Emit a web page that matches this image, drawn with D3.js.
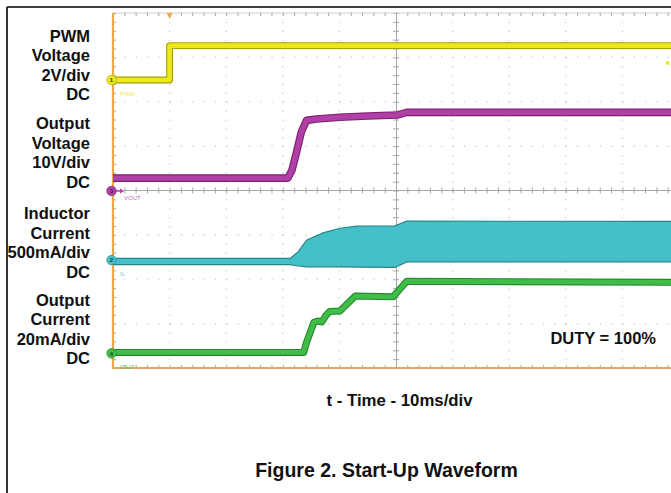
<!DOCTYPE html>
<html><head><meta charset="utf-8">
<script src="https://cdn.jsdelivr.net/npm/d3@7"></script>
<style>
body{margin:0;background:#fff}
svg{display:block}
text{font-family:"Liberation Sans",Arial,Helvetica,sans-serif}
</style>
</head><body>
<svg id="c" width="671" height="493"></svg>
<script>
// ---- data (time in ms, 10 ms/div) ----
const pwmTime  = [0, 10, 10, 100];
const pwmVolts = [0, 0, 1.55, 1.55];

const voutTime  = [0, 30.9, 31.6, 32.4, 33.3, 34.2, 36, 40.1, 45, 50.2, 51.9, 100];
const voutVolts = [2.9, 2.9, 4.6, 8.6, 13.4, 15.9, 16.2, 16.6, 16.9, 17.1, 17.7, 17.7];

const ilTime  = [0, 31.3, 32.7, 34.2, 37.1, 40.1, 43.1, 49.8, 51.9, 100];
const ilUpper = [20, 20, 93, 225, 307, 360, 383, 386, 440, 436];
const ilLower = [-50, -50, -66, -75, -75, -75, -78, -82, -19, -19];

const ioutTime = [0, 33.7, 34.2, 35.5, 36.2, 36.9, 37.6, 38.3, 40.1, 42.8, 49.5, 51.9, 100];
const ioutMa   = [0.4, 0.4, 5, 14, 14.6, 14.2, 17, 18.9, 19.1, 25.8, 25.5, 32.5, 32];

const channelLabels = [
  ["PWM", "Voltage", "2V/div", "DC"],
  ["Output", "Voltage", "10V/div", "DC"],
  ["Inductor", "Current", "500mA/div", "DC"],
  ["Output", "Current", "20mA/div", "DC"]
];
const xLabel = "t - Time - 10ms/div";
const title = "Figure 2. Start-Up Waveform";
const note = "DUTY = 100%";

// ---- layout ----
const svg = d3.select("#c");
const X0 = 113, X1 = 679, Y0 = 13, Y1 = 368;
const x = d3.scaleLinear().domain([0, 100]).range([X0, X1]);
const yDiv = d3.scaleLinear().domain([-4, 4]).range([Y1, Y0]);

const channels = [
  {id:"1", tag:"PWM",  perDiv:2,   offset:2.49,  color:"#ece81c", edge:"#a6a200", labelY:41.7},
  {id:"3", tag:"VOUT", perDiv:10,  offset:-0.01, color:"#b03fa6", edge:"#7a2270", labelY:129.3},
  {id:"2", tag:"IL",   perDiv:500, offset:-1.57, color:"#45c0c9", edge:"#23858c", labelY:219.3},
  {id:"4", tag:"IOUT", perDiv:20,  offset:-3.67, color:"#40bd47", edge:"#1f8a2a", labelY:305.7}
];
const yCh = (ch, v) => yDiv(ch.offset + v / ch.perDiv);

// page frame
svg.append("line").attr("x1",7).attr("x2",671).attr("y1",7).attr("y2",7).attr("stroke","#000").attr("stroke-width",1.6);
svg.append("line").attr("x1",7).attr("x2",7).attr("y1",7).attr("y2",493).attr("stroke","#000").attr("stroke-width",1.6);

// graticule clip
svg.append("clipPath").attr("id","clip").append("rect").attr("x",X0).attr("y",Y0).attr("width",671-X0).attr("height",Y1-Y0);
const g = svg.append("g");

// dotted grid
const xMajor = d3.range(0, 101, 10);
const yMajor = d3.range(-4, 5, 1);
g.selectAll(".vg").data(xMajor.filter(d => d !== 0 && d !== 50)).join("line")
  .attr("x1", d => x(d)).attr("x2", d => x(d)).attr("y1", Y0).attr("y2", Y1)
  .attr("stroke", "#c4c4c4").attr("stroke-width", 1.2).attr("stroke-dasharray", "1.2,7.675");
g.selectAll(".hg").data(yMajor.filter(d => d !== 0 && d !== -4)).join("line")
  .attr("x1", X0).attr("x2", 671).attr("y1", d => yDiv(d)).attr("y2", d => yDiv(d))
  .attr("stroke", "#c4c4c4").attr("stroke-width", 1.2).attr("stroke-dasharray", "1.2,10.12");

// center axes with minor ticks (d3 axes)
const xMinor = d3.range(0, 100.01, 2);
const yMinor = d3.range(-4, 4.001, 0.2);
const tickCol = "#a8a8a8";
function styleAxis(sel){
  sel.select(".domain").attr("stroke", tickCol);
  sel.selectAll(".tick line").attr("stroke", tickCol);
  sel.selectAll(".tick text").remove();
}
g.append("g").attr("transform", `translate(0,${yDiv(0)})`)
  .call(d3.axisBottom(x).tickValues(xMinor).tickSizeInner(3).tickSizeOuter(0).tickFormat(""))
  .call(styleAxis).select(".domain").attr("d", `M${X0},0H671`);
g.append("g").attr("transform", `translate(0,${yDiv(0)})`)
  .call(d3.axisTop(x).tickValues(xMinor).tickSizeInner(3).tickSizeOuter(0).tickFormat(""))
  .call(styleAxis).select(".domain").remove();
g.append("g").attr("transform", `translate(${x(50)},0)`)
  .call(d3.axisLeft(yDiv).tickValues(yMinor).tickSizeInner(3).tickSizeOuter(0).tickFormat(""))
  .call(styleAxis);
g.append("g").attr("transform", `translate(${x(50)},0)`)
  .call(d3.axisRight(yDiv).tickValues(yMinor).tickSizeInner(3).tickSizeOuter(0).tickFormat(""))
  .call(styleAxis).select(".domain").remove();
g.append("g").attr("transform", `translate(0,${Y0})`)
  .call(d3.axisBottom(x).tickValues(xMinor).tickSizeInner(3).tickSizeOuter(0).tickFormat(""))
  .call(styleAxis).select(".domain").attr("d", `M${X0},0H671`).attr("stroke","#d0d0d0");
g.append("g").attr("transform", `translate(0,${Y1})`)
  .call(d3.axisTop(x).tickValues(xMinor).tickSizeInner(3).tickSizeOuter(0).tickFormat(""))
  .call(styleAxis).select(".domain").remove();
g.append("g").attr("transform", `translate(${X0},0)`)
  .call(d3.axisRight(yDiv).tickValues(yMinor).tickSizeInner(3).tickSizeOuter(0).tickFormat(""))
  .call(styleAxis).select(".domain").remove();

// orange left & bottom border
g.append("line").attr("x1", X0).attr("x2", X0).attr("y1", Y0).attr("y2", Y1+1).attr("stroke", "#eca84a").attr("stroke-width", 2.2);
g.append("line").attr("x1", X0).attr("x2", 671).attr("y1", Y1).attr("y2", Y1).attr("stroke", "#e4aa60").attr("stroke-width", 2.2);

// traces
const tr = svg.append("g").attr("clip-path", "url(#clip)");
function trace(ch, ts, vs, w){
  const pts = ts.map((t,i) => [x(t), yCh(ch, vs[i])]);
  const line = d3.line();
  tr.append("path").attr("d", line(pts)).attr("fill","none").attr("stroke", ch.edge).attr("stroke-width", w+1.6).attr("stroke-linejoin","round");
  tr.append("path").attr("d", line(pts)).attr("fill","none").attr("stroke", ch.color).attr("stroke-width", w-0.6).attr("stroke-linejoin","round");
}
trace(channels[0], pwmTime, pwmVolts, 5.2);
trace(channels[1], voutTime, voutVolts, 6);
const ch2 = channels[2];
const area = d3.area().x(d => x(d.t)).y0(d => yCh(ch2, d.lo)).y1(d => yCh(ch2, d.hi));
const ilData = ilTime.map((t,i) => ({t, hi: ilUpper[i], lo: ilLower[i]}));
tr.append("path").attr("d", area(ilData)).attr("fill", ch2.color).attr("stroke", ch2.edge).attr("stroke-width", 1.2);
trace(channels[3], ioutTime, ioutMa, 5.4);

// channel ground markers
channels.forEach(ch => {
  const cy = yCh(ch, 0);
  const mg = svg.append("g");
  if (ch.tag === "VOUT") {
    mg.append("path").attr("d", `M${X0},${cy}H${X0+8}`).attr("stroke", ch.color).attr("stroke-width", 1.5);
    mg.append("path").attr("d", `M${X0+7},${cy-2.5}L${X0+11},${cy}L${X0+7},${cy+2.5}Z`).attr("fill", ch.color);
  }
  mg.append("circle").attr("cx", X0-1.5).attr("cy", cy).attr("r", 4.8).attr("fill", ch.color).attr("stroke", ch.edge).attr("stroke-width", 0.6);
  mg.append("text").attr("x", X0-1.5).attr("y", cy+2.2).attr("text-anchor","middle").attr("font-size", 6).attr("font-weight","bold").attr("fill","#333").text(ch.id);
  mg.append("text").attr("x", X0 + (ch.tag === "VOUT" ? 11 : 7)).attr("y", cy + (ch.tag === "VOUT" ? 9 : 16))
    .attr("font-size", 6).attr("fill", ch.color).attr("opacity", 0.8).text(ch.tag);
});
svg.append("path").attr("d", `M${x(10)-3},${Y0}L${x(10)+3},${Y0}L${x(10)},${Y0+6}Z`).attr("fill", "#eca84a");
svg.append("circle").attr("cx", 667.5).attr("cy", 63).attr("r", 2).attr("fill", "#ece81c");

// channel labels
channels.forEach((ch, i) => {
  svg.append("text").attr("text-anchor","end").attr("font-size", 16.5).attr("font-weight","bold").attr("fill","#111")
    .selectAll("tspan").data(channelLabels[i]).join("tspan")
    .attr("x", 90).attr("y", (d, j) => ch.labelY + j * 19.4).text(d => d);
});

svg.append("text").attr("x", 656).attr("y", 344).attr("text-anchor","end").attr("font-size", 16.5).attr("font-weight","bold").attr("fill","#111").text(note);
svg.append("text").attr("x", 399.5).attr("y", 405.5).attr("text-anchor","middle").attr("font-size", 16.8).attr("font-weight","bold").attr("fill","#111").text(xLabel);
svg.append("text").attr("x", 386.5).attr("y", 477).attr("text-anchor","middle").attr("font-size", 19.5).attr("font-weight","bold").attr("fill","#111").text(title);
</script>
</body></html>
